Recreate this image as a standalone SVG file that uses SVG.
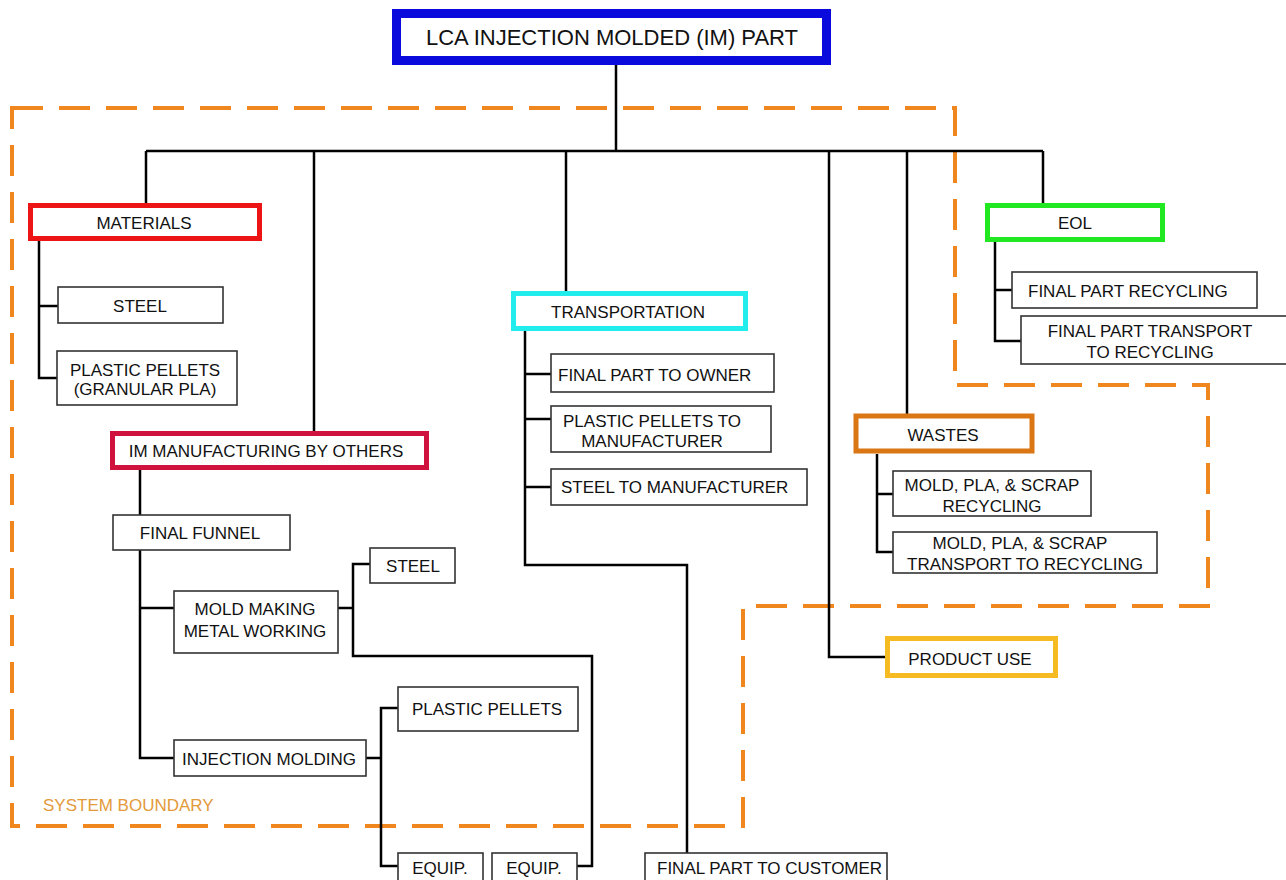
<svg xmlns="http://www.w3.org/2000/svg" width="1286" height="880" viewBox="0 0 1286 880">
<style>
text{font-family:"Liberation Sans",Arial,sans-serif;font-size:17px;fill:#111}
.c{text-anchor:middle}
.b{fill:#fff;stroke:#333;stroke-width:1.6}
.k{fill:#fff;stroke-width:5}
.ln{fill:none;stroke:#000;stroke-width:2.5}
.bd{fill:none;stroke:#F0861E;stroke-width:4;stroke-dasharray:31 16}
</style>
<rect width="1286" height="880" fill="#fff"/>
<g id="boundary">
<path class="bd" d="M12,108 H955 V385 H1208 V606 H743 V826 H12 Z"/>
<text x="43" y="811" style="fill:#E39A3A">SYSTEM BOUNDARY</text>
</g>
<g id="connectors">
<path class="ln" d="M616,64 V151 M146,151 H1043 M146,151 V204 M314,151 V432 M566,151 V292 M829,151 V657 H886 M907,151 V414 M1043,151 V204"/>
<path class="ln" d="M39,241 V378 H57 M39,306 H58"/>
<path class="ln" d="M140,470 V515 M140,550 V758 H174 M140,608 H174"/>
<path class="ln" d="M338,608 H353 M370,564 H353 V656 H592 V866 H577"/>
<path class="ln" d="M366,758 H381 M398,708 H381 V866 H398"/>
<path class="ln" d="M525,331 V565 H687 V853 M525,374 H551 M525,419 H551 M525,487 H551"/>
<path class="ln" d="M995,242 V341 H1021 M995,290 H1012"/>
<path class="ln" d="M877,454 V552 H893 M877,494 H893"/>
</g>
<g id="title">
<rect x="396.5" y="13.5" width="430" height="47" fill="#fff" stroke="#0A0ADC" stroke-width="9"/>
<text class="c" x="612" y="45" style="font-size:22px">LCA INJECTION MOLDED (IM) PART</text>
</g>
<g id="materials">
<rect class="k" x="30.5" y="205.5" width="229" height="33" stroke="#EC1414"/>
<text class="c" x="144" y="229">MATERIALS</text>
</g>
<g id="mat-steel"><rect class="b" x="58" y="287" width="165" height="36"/><text class="c" x="140" y="312">STEEL</text></g>
<g id="mat-pellets"><rect class="b" x="57" y="351" width="180" height="54"/><text class="c" x="145" y="376">PLASTIC PELLETS</text><text class="c" x="145" y="395">(GRANULAR PLA)</text></g>
<g id="im-manufacturing">
<rect class="k" x="112.5" y="433.5" width="314" height="34" stroke="#D0123E"/>
<text class="c" x="266" y="457">IM MANUFACTURING BY OTHERS</text>
</g>
<g id="final-funnel"><rect class="b" x="113" y="515" width="177" height="35"/><text class="c" x="200" y="539">FINAL FUNNEL</text></g>
<g id="mold-making"><rect class="b" x="174" y="591" width="164" height="62"/><text class="c" x="255" y="615">MOLD MAKING</text><text class="c" x="255" y="637">METAL WORKING</text></g>
<g id="im-steel"><rect class="b" x="370" y="548" width="85" height="35"/><text class="c" x="413" y="572">STEEL</text></g>
<g id="injection-molding"><rect class="b" x="174" y="740" width="192" height="36"/><text class="c" x="269" y="765">INJECTION MOLDING</text></g>
<g id="im-pellets"><rect class="b" x="398" y="687" width="180" height="44"/><text class="c" x="487" y="715">PLASTIC PELLETS</text></g>
<g id="equip1"><rect class="b" x="398" y="853" width="85" height="40"/><text class="c" x="440" y="874">EQUIP.</text></g>
<g id="equip2"><rect class="b" x="492" y="853" width="85" height="40"/><text class="c" x="534" y="874">EQUIP.</text></g>
<g id="transportation">
<rect class="k" x="513.5" y="293.5" width="232" height="35" stroke="#22ECEC"/>
<text class="c" x="628" y="318">TRANSPORTATION</text>
</g>
<g id="t-owner"><rect class="b" x="551" y="354" width="223" height="38"/><text x="558" y="381">FINAL PART TO OWNER</text></g>
<g id="t-pellets"><rect class="b" x="551" y="406" width="220" height="46"/><text class="c" x="652" y="427">PLASTIC PELLETS TO</text><text class="c" x="652" y="447">MANUFACTURER</text></g>
<g id="t-steel"><rect class="b" x="551" y="469" width="256" height="36"/><text x="561" y="493">STEEL TO MANUFACTURER</text></g>
<g id="t-customer"><rect class="b" x="645" y="853" width="242" height="40"/><text x="657" y="874">FINAL PART TO CUSTOMER</text></g>
<g id="eol">
<rect class="k" x="987.5" y="205.5" width="175" height="34" stroke="#22E822"/>
<text class="c" x="1075" y="229">EOL</text>
</g>
<g id="eol-recycling"><rect class="b" x="1012" y="272" width="245" height="36"/><text x="1028" y="297">FINAL PART RECYCLING</text></g>
<g id="eol-transport"><rect class="b" x="1021" y="316" width="266" height="48"/><text class="c" x="1150" y="337">FINAL PART TRANSPORT</text><text class="c" x="1150" y="358">TO RECYCLING</text></g>
<g id="wastes">
<rect class="k" x="856" y="416" width="176" height="35" stroke="#DA7614" stroke-width="6"/>
<text class="c" x="943" y="441">WASTES</text>
</g>
<g id="w-recycling"><rect class="b" x="893" y="471" width="198" height="45"/><text class="c" x="992" y="491">MOLD, PLA, &amp; SCRAP</text><text class="c" x="992" y="512">RECYCLING</text></g>
<g id="w-transport"><rect class="b" x="893" y="532" width="264" height="41"/><text class="c" x="1020" y="549">MOLD, PLA, &amp; SCRAP</text><text class="c" x="1025" y="570">TRANSPORT TO RECYCLING</text></g>
<g id="product-use">
<rect class="k" x="887.5" y="638.5" width="168" height="37" stroke="#F6BA22"/>
<text class="c" x="970" y="665">PRODUCT USE</text>
</g>
</svg>
